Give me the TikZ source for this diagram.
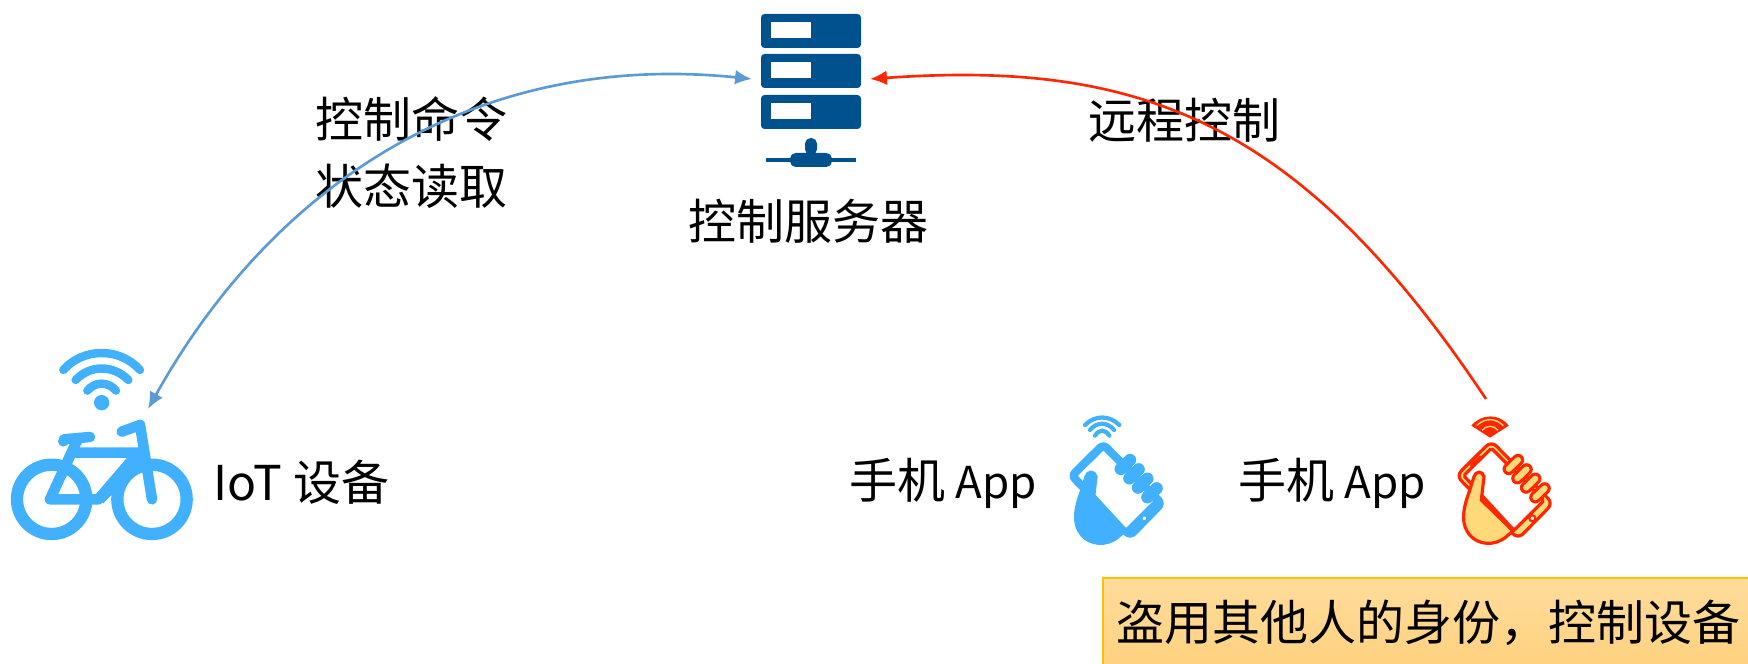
\documentclass[tikz,border=0pt]{standalone}
\usepackage{fontspec}
\setmainfont{Noto Sans CJK SC}
\usepackage{tikz}
\usetikzlibrary{arrows.meta, positioning}
\definecolor{bikeblue}{HTML}{40B0FF}
\definecolor{serverblue}{HTML}{00528F}
\definecolor{linkblue}{HTML}{5B9BD5}
\definecolor{linkred}{HTML}{FF2600}
\definecolor{handyellow}{HTML}{FFD97A}
\definecolor{boxtop}{HTML}{FFDC9C}
\definecolor{boxbottom}{HTML}{FFD17E}
\definecolor{boxedge}{HTML}{FFC000}

% Latin part of the phone labels is set a little smaller
\newcommand{\appword}{{\fontsize{12.5pt}{19pt}\selectfont App}}

% hand holding a phone: position, fill colour, line colour
\newcommand{\phonehand}[3]{
    \begin{scope}[shift={#1}, scale=1/3, line width=0.9pt, draw=#3]
        \filldraw[fill=#2, rounded corners=2pt] (160,108) -- (345,295) -- (240,402) -- (55,212) -- cycle; % body
        \filldraw[fill=white, rounded corners=0.5pt] (160,130) -- (317,287) -- (228,376) -- (77,212) -- cycle; % screen
        \draw[fill=white, line width=0.6pt] (283,340) circle (9);
        \draw[#3, line width=0.9pt, line cap=round] (100,180) -- (128,155);
        \foreach \fx/\fy in {212/192, 238/220, 264/248, 292/277} {
            \draw[#3, line width=3.5pt, line cap=round] (\fx,\fy) -- (\fx+28,\fy-27);
            \draw[#2, line width=1.7pt, line cap=round] (\fx,\fy) -- (\fx+28,\fy-27);
        }
        \filldraw[fill=#2] (108,215) .. controls (112,198) and (134,196) .. (138,215) -- (130,285) -- (225,378) -- (205,395) .. controls (170,425) and (120,420) .. (95,390) .. controls (70,360) and (72,320) .. (92,265) -- cycle;
    \end{scope}
}

\begin{document}
\begin{tikzpicture}[
                x=0.01cm, y=-0.01cm,
                >={Latex[length=4.8pt, width=4.2pt]},
                every node/.style={font=\fontsize{13.65pt}{19pt}\selectfont, inner sep=0pt, outer sep=0pt}, % Text size of all labels
                wifiarc/.style={line width=2.4pt, line cap=round, draw=bikeblue},
                smallarc/.style={line width=1.2pt, line cap=round, draw=bikeblue}
                ]
                \useasboundingbox (0,0) rectangle (1748,664);

                % icon areas the arrows attach to
                \node[minimum width=1.18cm, minimum height=1.3cm] (server) at (811,79) {};
                \node[minimum width=0.92cm, minimum height=0.61cm] (bikewifi) at (102,378.5) {};
                \node[minimum width=0.6cm, minimum height=0.38cm] (redwifi) at (1486,418) {};

                % server
                \foreach \ytop in {14,54,95} {
                    \fill[serverblue, rounded corners=1pt] (761,\ytop) rectangle (861,\ytop+34);
                    \fill[white] (771,\ytop+8) rectangle (811,\ytop+24);
                }
                \fill[serverblue] (766,158) rectangle (856,162);
                \fill[serverblue, rounded corners=1.6pt] (805,155) -- (805,138) -- (817,138) -- (817,155) -- cycle;
                \fill[serverblue, rounded corners=1.6pt] (790,153) rectangle (832,167);

                % bike
                \begin{scope}[shift={(0,340)}, scale=1/3]
                    \draw[bikeblue, line width=3.5pt] (155,478) circle (104);
                    \draw[bikeblue, line width=3.5pt] (456,478) circle (104);
                    \fill[bikeblue] (415,338) -- (295,478) -- (310,490) -- (345,455) -- (425,370) -- cycle;
                    \draw[bikeblue, line width=3pt, line cap=round, line join=round] (232,300) -- (150,478) -- (295,478) -- (415,338) -- (225,338);
                    \draw[bikeblue, line width=3pt, line cap=round, line join=round] (365,275) -- (420,255) -- (456,478);
                    \draw[bikeblue, line width=3pt, line cap=round] (192,298) -- (270,291);
                    \fill[bikeblue] (190,304) circle (16);
                    \fill[bikeblue] (305,188) circle (23);
                    \draw[wifiarc] (262,152) .. controls (285,124) and (325,124) .. (348,152);
                    \draw[wifiarc] (227,120) .. controls (270,74) and (340,74) .. (385,120);
                    \draw[wifiarc] (190,90) .. controls (250,22) and (360,22) .. (420,90);
                \end{scope}

                % phones
                \phonehand{(1050,405)}{bikeblue}{bikeblue}
                \begin{scope}[shift={(1050,405)}, scale=1/3]
                    \draw[smallarc] (135,92) .. controls (148,72) and (165,72) .. (178,92);
                    \draw[smallarc] (120,75) .. controls (140,50) and (172,50) .. (192,75);
                    \draw[smallarc] (105,60) .. controls (135,30) and (178,30) .. (208,60);
                \end{scope}
                \phonehand{(1438,405)}{handyellow}{linkred}
                \begin{scope}[shift={(1438,405)}, scale=1/3]
                    \fill[linkred] (100,62) .. controls (130,25) and (185,25) .. (212,62) -- (156,98) -- cycle;
                    \draw[handyellow, line width=0.4pt] (132,76) .. controls (146,60) and (166,60) .. (180,76);
                    \draw[handyellow, line width=0.4pt] (116,62) .. controls (140,38) and (172,38) .. (196,62);
                \end{scope}

                % labels
                \node[align=center] (cmdlabel) at (411,153) {控制命令\\状态读取};
                \node (remotelabel) at (1184,120) {远程控制};
                \node (serverlabel) at (808,221) {控制服务器};
                \node[anchor=west] (iotlabel) at (213,482) {IoT\hspace{0.25em}设备};
                \node[anchor=west] (applabel) at (849,483) {手机 \appword};
                \node[anchor=west] (attacklabel) at (1238,483) {手机 \appword};
                \node[anchor=north west, minimum width=6.5cm, minimum height=0.9cm, draw=boxedge, line width=0.5pt, top color=boxtop, bottom color=boxbottom] (attackbox) at (1103,578) {盗用其他人的身份，控制设备};

                % links
                \draw[linkblue, line width=0.75pt, <->] (bikewifi.south east) .. controls (270,190) and (470,50) .. (server.west);
                \draw[linkred, line width=0.75pt, ->] (redwifi.north) .. controls (1300,120) and (1140,60) .. (server.east);
            \end{tikzpicture}
\end{document}
